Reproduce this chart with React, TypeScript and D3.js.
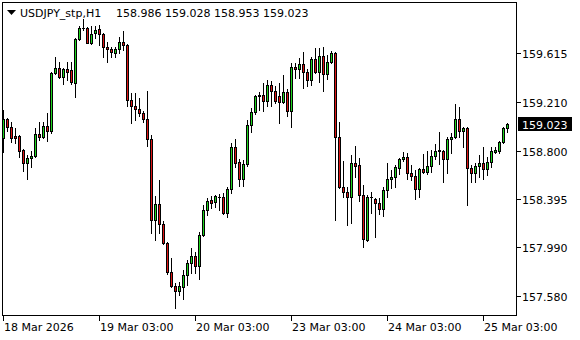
import React from "react";
import * as d3 from "d3";

const symbolTitle = "USDJPY_stp,H1";

const opens = [
  158.906, 159.065, 158.998, 158.923, 158.923, 158.806, 158.697, 158.739, 158.756, 158.940,
  158.914, 159.007, 158.965, 159.450, 159.492, 159.416, 159.484, 159.475, 159.367, 159.735,
  159.827, 159.827, 159.701, 159.785, 159.819, 159.777, 159.667, 159.651, 159.618, 159.651,
  159.709, 159.684, 159.224, 159.174, 159.149, 159.115, 159.065, 158.898, 158.220, 158.354,
  158.187, 158.028, 157.785, 157.668, 157.626, 157.659, 157.760, 157.860, 157.919, 157.835,
  158.094, 158.304, 158.387, 158.370, 158.412, 158.412, 158.279, 158.479, 158.831, 158.705,
  158.563, 158.689, 159.015, 159.124, 159.258, 159.266, 159.216, 159.350, 159.300, 159.258,
  159.207, 159.291, 159.132, 159.500, 159.484, 159.525, 159.458, 159.392, 159.567, 159.458,
  159.592, 159.442, 159.542, 159.618, 158.914, 158.496, 158.454, 158.412, 158.697, 158.680,
  158.429, 158.053, 158.412, 158.396, 158.362, 158.312, 158.471, 158.563, 158.580, 158.655,
  158.730, 158.747, 158.613, 158.588, 158.479, 158.647, 158.622, 158.672, 158.756, 158.798,
  158.798, 158.730, 158.898, 158.914, 159.065, 158.965, 158.990, 158.655, 158.613, 158.672,
  158.697, 158.647, 158.705, 158.789, 158.798, 158.872, 158.986,
];

const highs = [
  159.140, 159.073, 159.040, 158.990, 158.931, 158.814, 158.764, 158.798, 158.990, 159.040,
  159.040, 159.115, 159.458, 159.584, 159.542, 159.492, 159.542, 159.542, 159.743, 159.844,
  159.902, 159.835, 159.844, 159.844, 159.852, 159.785, 159.709, 159.667, 159.667, 159.751,
  159.802, 159.693, 159.283, 159.283, 159.241, 159.132, 159.300, 158.931, 158.421, 158.555,
  158.212, 158.036, 157.902, 157.693, 157.701, 157.802, 157.885, 157.986, 157.952, 158.119,
  158.345, 158.404, 158.421, 158.429, 158.437, 158.446, 158.496, 158.864, 158.898, 158.730,
  158.722, 159.057, 159.157, 159.266, 159.291, 159.367, 159.392, 159.384, 159.342, 159.367,
  159.433, 159.316, 159.534, 159.534, 159.576, 159.626, 159.484, 159.584, 159.659, 159.659,
  159.667, 159.601, 159.634, 159.626, 159.040, 158.714, 158.496, 158.764, 158.839, 158.739,
  158.513, 158.429, 158.454, 158.404, 158.404, 158.496, 158.697, 158.638, 158.680, 158.739,
  158.789, 158.781, 158.680, 158.638, 158.655, 158.772, 158.798, 158.806, 158.856, 158.956,
  158.806, 158.914, 158.948, 159.191, 159.166, 158.998, 158.998, 158.680, 158.697, 158.764,
  158.831, 158.747, 158.831, 158.831, 158.881, 158.998, 159.028,
];

const lows = [
  158.789, 158.965, 158.872, 158.864, 158.747, 158.630, 158.563, 158.663, 158.747, 158.889,
  158.906, 158.881, 158.948, 159.442, 159.408, 159.359, 159.392, 159.359, 159.249, 159.726,
  159.810, 159.699, 159.693, 159.743, 159.684, 159.584, 159.542, 159.584, 159.584, 159.618,
  159.643, 159.174, 159.032, 159.057, 159.090, 159.040, 158.839, 158.111, 158.053, 158.111,
  158.020, 157.769, 157.659, 157.484, 157.592, 157.559, 157.676, 157.777, 157.777, 157.727,
  158.086, 158.262, 158.320, 158.328, 158.304, 158.270, 158.245, 158.446, 158.663, 158.505,
  158.505, 158.672, 158.956, 159.107, 159.140, 159.132, 159.174, 159.174, 159.199, 159.032,
  159.199, 159.090, 158.998, 159.408, 159.408, 159.325, 159.342, 159.350, 159.450, 159.375,
  159.300, 159.400, 159.534, 158.220, 158.488, 158.412, 158.178, 158.195, 158.580, 158.379,
  157.994, 158.044, 158.279, 158.078, 158.270, 158.254, 158.412, 158.488, 158.496, 158.605,
  158.714, 158.563, 158.555, 158.396, 158.412, 158.613, 158.605, 158.622, 158.730, 158.689,
  158.538, 158.613, 158.781, 158.906, 158.914, 158.831, 158.345, 158.538, 158.538, 158.580,
  158.563, 158.597, 158.663, 158.781, 158.781, 158.864, 158.953,
];

const closes = [
  159.065, 158.998, 158.906, 158.906, 158.798, 158.697, 158.739, 158.756, 158.940, 158.914,
  159.007, 158.965, 159.450, 159.492, 159.416, 159.484, 159.458, 159.375, 159.735, 159.827,
  159.825, 159.701, 159.777, 159.810, 159.777, 159.667, 159.651, 159.626, 159.651, 159.709,
  159.684, 159.224, 159.174, 159.149, 159.115, 159.065, 158.898, 158.220, 158.354, 158.187,
  158.028, 157.785, 157.668, 157.626, 157.668, 157.760, 157.860, 157.919, 157.835, 158.094,
  158.304, 158.379, 158.362, 158.421, 158.412, 158.279, 158.479, 158.831, 158.697, 158.563,
  158.689, 159.015, 159.124, 159.258, 159.266, 159.216, 159.350, 159.300, 159.216, 159.207,
  159.291, 159.132, 159.500, 159.484, 159.525, 159.458, 159.392, 159.567, 159.458, 159.592,
  159.442, 159.542, 159.618, 158.914, 158.496, 158.454, 158.412, 158.697, 158.672, 158.429,
  158.061, 158.412, 158.412, 158.362, 158.312, 158.471, 158.563, 158.580, 158.663, 158.730,
  158.747, 158.613, 158.588, 158.479, 158.647, 158.622, 158.672, 158.756, 158.798, 158.806,
  158.730, 158.898, 158.914, 159.065, 158.965, 158.990, 158.655, 158.613, 158.672, 158.697,
  158.647, 158.705, 158.798, 158.806, 158.872, 158.990, 159.023,
];

const priceTicks = [159.615, 159.21, 158.8, 158.395, 157.99, 157.58];
const timeTickBars = [0, 24, 48, 72, 96, 120];
const timeTickLabels = [
  "18 Mar 2026",
  "19 Mar 03:00",
  "20 Mar 03:00",
  "23 Mar 03:00",
  "24 Mar 03:00",
  "25 Mar 03:00",
];
const priceDomain = [157.425, 160.036];

const W = 580;
const H = 340;
const FRAME = { left: 2, right: 516, top: 2, bottom: 315 };
const BULL = "#1ed41e";
const BEAR = "#dc1414";
const FONT = "DejaVu Sans, Verdana, sans-serif";

export default function App() {
  const n = opens.length;
  const x = d3.scaleLinear().domain([0, n - 1]).range([3, 507]);
  const y = d3.scaleLinear().domain(priceDomain).range([315, 3]);

  const candles = d3.range(n).map((i) => {
    const o = opens[i], h = highs[i], l = lows[i], c = closes[i];
    const cx = Math.round(x(i));
    const yo = Math.round(y(o));
    const yc = Math.round(y(c));
    const yh = Math.round(y(h));
    const yl = Math.round(y(l));
    const top = Math.min(yo, yc);
    const bot = Math.max(yo, yc);
    const bull = c >= o;
    return (
      <g key={i}>
        <line x1={cx + 0.5} x2={cx + 0.5} y1={yh} y2={yl + 1} stroke="#000" strokeWidth={1} />
        {bot - top < 1 ? (
          <line x1={cx - 1} x2={cx + 2} y1={top + 0.5} y2={top + 0.5} stroke="#000" strokeWidth={1} />
        ) : (
          <rect
            x={cx - 0.5}
            y={top + 0.5}
            width={2}
            height={bot - top}
            fill={bull ? BULL : BEAR}
            stroke="#000"
            strokeWidth={1}
          />
        )}
      </g>
    );
  });

  const last = n - 1;
  const ohlcText = [opens[last], highs[last], lows[last], closes[last]]
    .map((v) => v.toFixed(3))
    .join(" ");
  const yLast = y(closes[last]);

  return (
    <svg
      width={W}
      height={H}
      style={{ position: "absolute", left: 0, top: 0, background: "#fff" }}
      shapeRendering="crispEdges"
    >
      <rect x={0} y={0} width={W} height={H} fill="#fff" />
      {/* frame */}
      <rect
        x={FRAME.left + 0.5}
        y={FRAME.top + 0.5}
        width={FRAME.right - FRAME.left}
        height={FRAME.bottom - FRAME.top}
        fill="none"
        stroke="#000"
        strokeWidth={1}
      />
      {candles}
      {/* title */}
      <path d="M7,10 L16,10 L11.5,15 Z" fill="#000" shapeRendering="auto" />
      <text x={20} y={17} fontFamily={FONT} fontSize={11} fill="#000">
        {symbolTitle}
      </text>
      <text x={116} y={17} fontFamily={FONT} fontSize={11} fill="#000">
        {ohlcText}
      </text>
      {/* price axis */}
      {priceTicks.map((p, i) => {
        const yy = Math.round(y(p));
        return (
          <g key={"p" + i}>
            <line x1={FRAME.right + 1} x2={FRAME.right + 5} y1={yy + 0.5} y2={yy + 0.5} stroke="#000" />
            <text x={522} y={yy + 4.5} fontFamily={FONT} fontSize={11} fill="#000">
              {p.toFixed(3)}
            </text>
          </g>
        );
      })}
      <rect x={518} y={Math.round(yLast) - 7} width={54} height={14} fill="#000" />
      <text x={522} y={Math.round(yLast) + 4.5} fontFamily={FONT} fontSize={11} fill="#fff">
        {closes[last].toFixed(3)}
      </text>
      {/* time axis */}
      {timeTickBars.map((b, i) => {
        const xx = Math.round(x(b));
        return (
          <g key={"t" + i}>
            <line x1={xx + 0.5} x2={xx + 0.5} y1={FRAME.bottom + 1} y2={FRAME.bottom + 6} stroke="#000" />
            <text x={xx + 1} y={331} fontFamily={FONT} fontSize={11} fill="#000">
              {timeTickLabels[i]}
            </text>
          </g>
        );
      })}
    </svg>
  );
}
